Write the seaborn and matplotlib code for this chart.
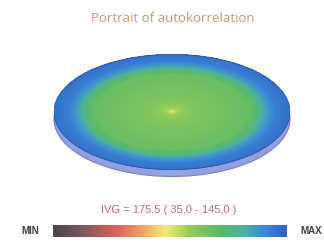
import numpy as np
import matplotlib
matplotlib.use("Agg")
import matplotlib.pyplot as plt
from matplotlib.colors import LinearSegmentedColormap
from matplotlib.patches import Ellipse
import seaborn as sns

# colour scale of the portrait (MIN -> MAX)
scale_pos = [0.0, 0.12, 0.27, 0.38, 0.48, 0.58, 0.72, 0.82, 0.9, 1.0]
scale_colors = ["#4a4548", "#7a5560", "#e0605c", "#f0a064", "#f4ec78",
                "#98cc58", "#58b868", "#4cb0a0", "#3c8ad8", "#2f62c4"]

# radial profile of the autocorrelation (0 = centre, 1 = rim)
radius = [0.0, 0.05, 0.18, 0.45, 0.64, 0.71, 0.78, 0.88, 1.0]
level = [0.5, 0.57, 0.63, 0.66, 0.68, 0.73, 0.84, 0.93, 0.96]

title = "Portrait of autokorrelation"
ivg_text = "IVG = 175,5 ( 35,0 - 145,0 )"
scale_labels = ["MIN", "MAX"]

cmap = LinearSegmentedColormap.from_list("portrait", list(zip(scale_pos, scale_colors)))

fig = plt.figure(figsize=(3.24, 2.45), dpi=100)
fig.patch.set_facecolor("white")
W, H = 324, 245

ax = fig.add_axes([0, 0, 1, 1])
ax.set_xlim(0, W)
ax.set_ylim(H, 0)
ax.axis("off")

# side of the disc
cx, cy, dw, dh = 172, 112, 236, 115
ax.add_patch(Ellipse((cx, cy + 7), dw, dh, facecolor="#92a0e0", edgecolor="#7480c8", lw=0.8))

ax.text(cx + 1, 18, title, ha="center", va="center", fontsize=9.5,
        family="Open Sans", color="#c89474")
ax.text(cx - 3, 210, ivg_text, ha="center", va="center", fontsize=8,
        family="Liberation Sans", color="#b86a84")
ax.text(30, 231, scale_labels[0], ha="center", va="center", fontsize=7,
        family="Liberation Sans", color="#404040", weight="bold")
ax.text(311, 231, scale_labels[1], ha="center", va="center", fontsize=7,
        family="Liberation Sans", color="#404040", weight="bold")

# top face of the disc as a heatmap
ny, nx = 115, 236
yy, xx = np.mgrid[0:ny, 0:nx]
r = np.sqrt(((xx + 0.5 - nx / 2) / (nx / 2)) ** 2 + ((yy + 0.5 - ny / 2) / (ny / 2)) ** 2)
field = np.interp(r, radius, level)
mask = r > 1.0

dax = fig.add_axes([(cx - dw / 2) / W, 1 - (cy + dh / 2) / H, dw / W, dh / H])
sns.heatmap(field, mask=mask, cmap=cmap, vmin=0, vmax=1, cbar=False,
            xticklabels=False, yticklabels=False, ax=dax)
dax.add_patch(Ellipse((nx / 2, ny / 2), nx, ny, fill=False, edgecolor="#2f5cb8", lw=0.8))
dax.axis("off")

# colour bar
colorbar_levels = np.linspace(0, 1, 256)[None, :]
cax = fig.add_axes([53 / W, 1 - 237 / H, 234 / W, 12 / H])
sns.heatmap(colorbar_levels, cmap=cmap, vmin=0, vmax=1, cbar=False,
            xticklabels=False, yticklabels=False, ax=cax)
cax.axis("off")

fig.savefig("out.png", dpi=100, facecolor="white")
